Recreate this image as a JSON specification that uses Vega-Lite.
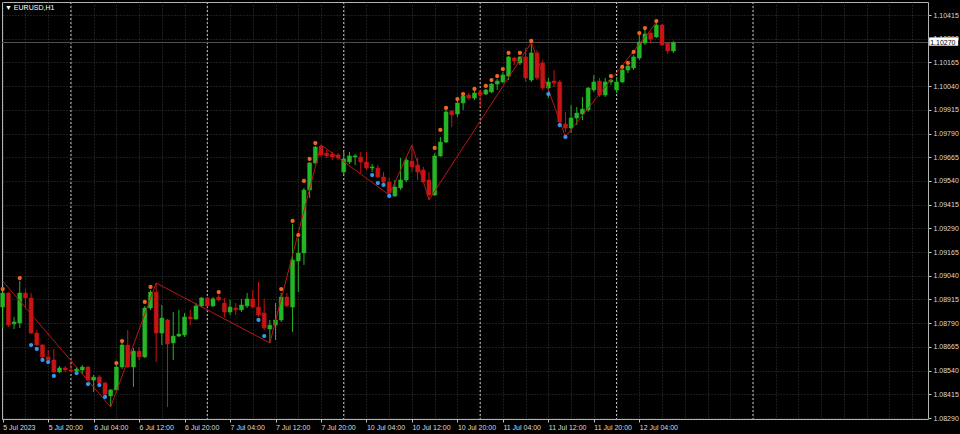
{
  "$schema": "https://vega.github.io/schema/vega-lite/v6.json",
  "width": 926,
  "height": 417,
  "autosize": {"type": "none"},
  "padding": {"left": 2, "top": 2, "right": 32, "bottom": 15},
  "background": "#000000",
  "title": {
    "text": "▼ EURUSD,H1",
    "anchor": "start",
    "frame": "group",
    "orient": "top",
    "baseline": "top",
    "offset": -9,
    "dx": 3,
    "font": "Liberation Sans",
    "fontSize": 7,
    "fontWeight": "normal",
    "color": "#ffffff"
  },
  "config": {
    "view": {"stroke": "#b4b4b4", "strokeWidth": 1, "fill": "#000000"},
    "axis": {
      "labelFont": "Liberation Sans",
      "labelFontSize": 7,
      "labelColor": "#dcdcdc",
      "tickColor": "#c8c8c8",
      "domain": false,
      "gridColor": "#383838",
      "gridDash": [1, 2],
      "gridWidth": 1,
      "title": null,
      "tickSize": 3,
      "tickCount": 100,
      "labelOverlap": false,
      "labelFlush": false,
      "labelBound": false
    }
  },
  "datasets": {
    "days": [{"i": 12}, {"i": 36}, {"i": 60}, {"i": 84}, {"i": 108}, {"i": 132}],
    "candles": [
      {"i":0,"o":1.08875,"h":1.08965,"l":1.08765,"c":1.08949},
      {"i":1,"o":1.08949,"h":1.08954,"l":1.08770,"c":1.08780},
      {"i":2,"o":1.08786,"h":1.08823,"l":1.08759,"c":1.08796},
      {"i":3,"o":1.08791,"h":1.09012,"l":1.08765,"c":1.08949},
      {"i":4,"o":1.08949,"h":1.08970,"l":1.08875,"c":1.08923},
      {"i":5,"o":1.08923,"h":1.08949,"l":1.08733,"c":1.08738},
      {"i":6,"o":1.08738,"h":1.08754,"l":1.08670,"c":1.08675},
      {"i":7,"o":1.08675,"h":1.08680,"l":1.08606,"c":1.08612},
      {"i":8,"o":1.08612,"h":1.08649,"l":1.08591,"c":1.08596},
      {"i":9,"o":1.08596,"h":1.08654,"l":1.08527,"c":1.08533},
      {"i":10,"o":1.08533,"h":1.08564,"l":1.08527,"c":1.08554},
      {"i":11,"o":1.08554,"h":1.08564,"l":1.08533,"c":1.08543},
      {"i":12,"o":1.08543,"h":1.08575,"l":1.08533,"c":1.08538},
      {"i":13,"o":1.08538,"h":1.08559,"l":1.08533,"c":1.08548},
      {"i":14,"o":1.08543,"h":1.08569,"l":1.08522,"c":1.08559},
      {"i":15,"o":1.08559,"h":1.08564,"l":1.08485,"c":1.08490},
      {"i":16,"o":1.08490,"h":1.08517,"l":1.08427,"c":1.08506},
      {"i":17,"o":1.08506,"h":1.08517,"l":1.08469,"c":1.08475},
      {"i":18,"o":1.08475,"h":1.08480,"l":1.08411,"c":1.08416},
      {"i":19,"o":1.08406,"h":1.08443,"l":1.08348,"c":1.08438},
      {"i":20,"o":1.08438,"h":1.08569,"l":1.08432,"c":1.08559},
      {"i":21,"o":1.08559,"h":1.08686,"l":1.08548,"c":1.08675},
      {"i":22,"o":1.08675,"h":1.08754,"l":1.08554,"c":1.08559},
      {"i":23,"o":1.08559,"h":1.08659,"l":1.08454,"c":1.08643},
      {"i":24,"o":1.08643,"h":1.08664,"l":1.08596,"c":1.08612},
      {"i":25,"o":1.08612,"h":1.08881,"l":1.08606,"c":1.08870},
      {"i":26,"o":1.08870,"h":1.08965,"l":1.08860,"c":1.08954},
      {"i":27,"o":1.08954,"h":1.09002,"l":1.08585,"c":1.08738},
      {"i":28,"o":1.08738,"h":1.08886,"l":1.08675,"c":1.08817},
      {"i":29,"o":1.08807,"h":1.08812,"l":1.08348,"c":1.08680},
      {"i":30,"o":1.08686,"h":1.08849,"l":1.08596,"c":1.08722},
      {"i":31,"o":1.08722,"h":1.08860,"l":1.08717,"c":1.08733},
      {"i":32,"o":1.08728,"h":1.08844,"l":1.08717,"c":1.08823},
      {"i":33,"o":1.08823,"h":1.08860,"l":1.08780,"c":1.08812},
      {"i":34,"o":1.08812,"h":1.08896,"l":1.08807,"c":1.08881},
      {"i":35,"o":1.08881,"h":1.08928,"l":1.08875,"c":1.08923},
      {"i":36,"o":1.08923,"h":1.08928,"l":1.08875,"c":1.08881},
      {"i":37,"o":1.08881,"h":1.08928,"l":1.08875,"c":1.08918},
      {"i":38,"o":1.08928,"h":1.08939,"l":1.08907,"c":1.08912},
      {"i":39,"o":1.08896,"h":1.08923,"l":1.08823,"c":1.08849},
      {"i":40,"o":1.08849,"h":1.08912,"l":1.08833,"c":1.08875},
      {"i":41,"o":1.08870,"h":1.08896,"l":1.08833,"c":1.08860},
      {"i":42,"o":1.08860,"h":1.08918,"l":1.08849,"c":1.08886},
      {"i":43,"o":1.08881,"h":1.08949,"l":1.08870,"c":1.08918},
      {"i":44,"o":1.08918,"h":1.08965,"l":1.08870,"c":1.08875},
      {"i":45,"o":1.08875,"h":1.09007,"l":1.08823,"c":1.08833},
      {"i":46,"o":1.08844,"h":1.08918,"l":1.08754,"c":1.08765},
      {"i":47,"o":1.08759,"h":1.08807,"l":1.08686,"c":1.08780},
      {"i":48,"o":1.08780,"h":1.08896,"l":1.08701,"c":1.08807},
      {"i":49,"o":1.08807,"h":1.08949,"l":1.08796,"c":1.08928},
      {"i":50,"o":1.08928,"h":1.08949,"l":1.08875,"c":1.08881},
      {"i":51,"o":1.08875,"h":1.09313,"l":1.08743,"c":1.09123},
      {"i":52,"o":1.09118,"h":1.09239,"l":1.08954,"c":1.09160},
      {"i":53,"o":1.09160,"h":1.09503,"l":1.09097,"c":1.09492},
      {"i":54,"o":1.09492,"h":1.09640,"l":1.09450,"c":1.09635},
      {"i":55,"o":1.09635,"h":1.09724,"l":1.09629,"c":1.09719},
      {"i":56,"o":1.09724,"h":1.09730,"l":1.09666,"c":1.09677},
      {"i":57,"o":1.09687,"h":1.09703,"l":1.09661,"c":1.09672},
      {"i":58,"o":1.09682,"h":1.09693,"l":1.09650,"c":1.09666},
      {"i":59,"o":1.09677,"h":1.09687,"l":1.09650,"c":1.09661},
      {"i":60,"o":1.09587,"h":1.09693,"l":1.09577,"c":1.09656},
      {"i":61,"o":1.09640,"h":1.09693,"l":1.09629,"c":1.09672},
      {"i":62,"o":1.09666,"h":1.09682,"l":1.09624,"c":1.09672},
      {"i":63,"o":1.09666,"h":1.09693,"l":1.09582,"c":1.09640},
      {"i":64,"o":1.09640,"h":1.09693,"l":1.09598,"c":1.09608},
      {"i":65,"o":1.09608,"h":1.09629,"l":1.09587,"c":1.09614},
      {"i":66,"o":1.09608,"h":1.09624,"l":1.09556,"c":1.09561},
      {"i":67,"o":1.09561,"h":1.09587,"l":1.09529,"c":1.09534},
      {"i":68,"o":1.09534,"h":1.09556,"l":1.09466,"c":1.09476},
      {"i":69,"o":1.09461,"h":1.09545,"l":1.09455,"c":1.09508},
      {"i":70,"o":1.09503,"h":1.09661,"l":1.09492,"c":1.09545},
      {"i":71,"o":1.09545,"h":1.09661,"l":1.09534,"c":1.09650},
      {"i":72,"o":1.09645,"h":1.09730,"l":1.09587,"c":1.09614},
      {"i":73,"o":1.09624,"h":1.09661,"l":1.09545,"c":1.09587},
      {"i":74,"o":1.09598,"h":1.09614,"l":1.09529,"c":1.09534},
      {"i":75,"o":1.09545,"h":1.09587,"l":1.09440,"c":1.09466},
      {"i":76,"o":1.09466,"h":1.09687,"l":1.09461,"c":1.09672},
      {"i":77,"o":1.09672,"h":1.09772,"l":1.09666,"c":1.09745},
      {"i":78,"o":1.09745,"h":1.09914,"l":1.09740,"c":1.09904},
      {"i":79,"o":1.09909,"h":1.09914,"l":1.09824,"c":1.09888},
      {"i":80,"o":1.09893,"h":1.09967,"l":1.09877,"c":1.09951},
      {"i":81,"o":1.09951,"h":1.09993,"l":1.09914,"c":1.09988},
      {"i":82,"o":1.09993,"h":1.10004,"l":1.09967,"c":1.09977},
      {"i":83,"o":1.09977,"h":1.10014,"l":1.09967,"c":1.10004},
      {"i":84,"o":1.10009,"h":1.10020,"l":1.09930,"c":1.09993},
      {"i":85,"o":1.09998,"h":1.10025,"l":1.09993,"c":1.10020},
      {"i":86,"o":1.10009,"h":1.10056,"l":1.10004,"c":1.10051},
      {"i":87,"o":1.10051,"h":1.10078,"l":1.10020,"c":1.10067},
      {"i":88,"o":1.10062,"h":1.10114,"l":1.10056,"c":1.10099},
      {"i":89,"o":1.10093,"h":1.10199,"l":1.10072,"c":1.10194},
      {"i":90,"o":1.10188,"h":1.10194,"l":1.10151,"c":1.10172},
      {"i":91,"o":1.10162,"h":1.10199,"l":1.10151,"c":1.10194},
      {"i":92,"o":1.10194,"h":1.10241,"l":1.10062,"c":1.10083},
      {"i":93,"o":1.10072,"h":1.10262,"l":1.10062,"c":1.10215},
      {"i":94,"o":1.10215,"h":1.10230,"l":1.10072,"c":1.10083},
      {"i":95,"o":1.10162,"h":1.10178,"l":1.10020,"c":1.10030},
      {"i":96,"o":1.10030,"h":1.10083,"l":1.09977,"c":1.10062},
      {"i":97,"o":1.10067,"h":1.10125,"l":1.10035,"c":1.10056},
      {"i":98,"o":1.10062,"h":1.10072,"l":1.09846,"c":1.09851},
      {"i":99,"o":1.09840,"h":1.09904,"l":1.09798,"c":1.09819},
      {"i":100,"o":1.09819,"h":1.09940,"l":1.09793,"c":1.09872},
      {"i":101,"o":1.09872,"h":1.09930,"l":1.09835,"c":1.09898},
      {"i":102,"o":1.09893,"h":1.09983,"l":1.09861,"c":1.09919},
      {"i":103,"o":1.09914,"h":1.10035,"l":1.09904,"c":1.10030},
      {"i":104,"o":1.10020,"h":1.10099,"l":1.10009,"c":1.10062},
      {"i":105,"o":1.10067,"h":1.10083,"l":1.09983,"c":1.09993},
      {"i":106,"o":1.09993,"h":1.10083,"l":1.09983,"c":1.10062},
      {"i":107,"o":1.10062,"h":1.10078,"l":1.10046,"c":1.10072},
      {"i":108,"o":1.10020,"h":1.10088,"l":1.10004,"c":1.10062},
      {"i":109,"o":1.10062,"h":1.10130,"l":1.10056,"c":1.10125},
      {"i":110,"o":1.10125,"h":1.10151,"l":1.10109,"c":1.10146},
      {"i":111,"o":1.10136,"h":1.10204,"l":1.10125,"c":1.10194},
      {"i":112,"o":1.10188,"h":1.10310,"l":1.10178,"c":1.10273},
      {"i":113,"o":1.10267,"h":1.10336,"l":1.10257,"c":1.10315},
      {"i":114,"o":1.10320,"h":1.10325,"l":1.10267,"c":1.10288},
      {"i":115,"o":1.10299,"h":1.10373,"l":1.10294,"c":1.10362},
      {"i":116,"o":1.10362,"h":1.10368,"l":1.10252,"c":1.10257},
      {"i":117,"o":1.10267,"h":1.10273,"l":1.10209,"c":1.10225},
      {"i":118,"o":1.10225,"h":1.10278,"l":1.10215,"c":1.10270}
    ],
    "signals": [
      {"i":0,"p":1.08970,"kind":"high"},{"i":3,"p":1.09028,"kind":"high"},{"i":20,"p":1.08580,"kind":"high"},
      {"i":21,"p":1.08696,"kind":"high"},{"i":25,"p":1.08902,"kind":"high"},{"i":26,"p":1.08981,"kind":"high"},
      {"i":38,"p":1.08954,"kind":"high"},{"i":49,"p":1.08970,"kind":"high"},{"i":51,"p":1.09329,"kind":"high"},
      {"i":52,"p":1.09255,"kind":"high"},{"i":53,"p":1.09540,"kind":"high"},{"i":54,"p":1.09656,"kind":"high"},
      {"i":55,"p":1.09740,"kind":"high"},{"i":76,"p":1.09714,"kind":"high"},{"i":77,"p":1.09809,"kind":"high"},
      {"i":78,"p":1.09925,"kind":"high"},{"i":80,"p":1.09972,"kind":"high"},{"i":81,"p":1.09998,"kind":"high"},
      {"i":83,"p":1.10025,"kind":"high"},{"i":85,"p":1.10041,"kind":"high"},{"i":86,"p":1.10072,"kind":"high"},
      {"i":87,"p":1.10093,"kind":"high"},{"i":88,"p":1.10130,"kind":"high"},{"i":89,"p":1.10215,"kind":"high"},
      {"i":91,"p":1.10215,"kind":"high"},{"i":93,"p":1.10278,"kind":"high"},{"i":107,"p":1.10093,"kind":"high"},
      {"i":109,"p":1.10141,"kind":"high"},{"i":110,"p":1.10162,"kind":"high"},{"i":111,"p":1.10220,"kind":"high"},
      {"i":112,"p":1.10320,"kind":"high"},{"i":113,"p":1.10346,"kind":"high"},{"i":115,"p":1.10383,"kind":"high"},
      {"i":5,"p":1.08675,"kind":"low"},{"i":6,"p":1.08654,"kind":"low"},{"i":7,"p":1.08596,"kind":"low"},
      {"i":8,"p":1.08585,"kind":"low"},{"i":9,"p":1.08512,"kind":"low"},{"i":13,"p":1.08527,"kind":"low"},
      {"i":15,"p":1.08469,"kind":"low"},{"i":17,"p":1.08464,"kind":"low"},{"i":18,"p":1.08401,"kind":"low"},
      {"i":45,"p":1.08807,"kind":"low"},{"i":46,"p":1.08722,"kind":"low"},{"i":65,"p":1.09571,"kind":"low"},
      {"i":66,"p":1.09529,"kind":"low"},{"i":67,"p":1.09519,"kind":"low"},{"i":68,"p":1.09461,"kind":"low"},
      {"i":96,"p":1.09998,"kind":"low"},{"i":98,"p":1.09835,"kind":"low"},{"i":99,"p":1.09772,"kind":"low"}
    ],
    "zigzag": [
      {"i":0,"p":1.09012},{"i":19,"p":1.08348},{"i":27,"p":1.09002},{"i":47,"p":1.08686},
      {"i":56,"p":1.09730},{"i":68,"p":1.09466},{"i":72,"p":1.09730},{"i":75,"p":1.09440},
      {"i":93,"p":1.10270},{"i":99,"p":1.09773},{"i":115,"p":1.10374}
    ],
    "quote": [{"price": 1.10270, "label": "1.10270"}]
  },
  "layer": [
    {
      "data": {"name": "days"},
      "mark": {"type": "rule", "color": "#c8c8c8", "strokeDash": [2, 2], "strokeWidth": 1},
      "encoding": {
        "x": {
          "field": "i", "type": "quantitative",
          "scale": {"domain": [-0.123, 162.79], "nice": false, "zero": false, "padding": 0},
          "axis": {
            "orient": "bottom",
            "grid": true,
            "tickCount": 100,
            "values": [0,4,8,12,16,20,24,28,32,36,40,44,48,52,56,60,64,68,72,76,80,84,88,92,96,100,104,108,112,116,120,124,128,132,136,140,144,148,152,156,160],
            "labelExpr": "(datum.value % 8 == 0 && datum.value <= 112) ? ['5 Jul 2023','5 Jul 20:00','6 Jul 04:00','6 Jul 12:00','6 Jul 20:00','7 Jul 04:00','7 Jul 12:00','7 Jul 20:00','10 Jul 04:00','10 Jul 12:00','10 Jul 20:00','11 Jul 04:00','11 Jul 12:00','11 Jul 20:00','12 Jul 04:00'][datum.value / 8] : ''",
            "labelAlign": "left",
            "labelDx": -1,
            "labelPadding": 1,
            "labelOverlap": false,
            "tickColor": {"condition": {"test": "datum.value % 8 == 0 && datum.value <= 112", "value": "#c8c8c8"}, "value": "transparent"}
          }
        }
      }
    },
    {
      "data": {"name": "quote"},
      "mark": {"type": "rule", "color": "#4e4e4e", "strokeWidth": 1},
      "encoding": {
        "y": {
          "field": "price", "type": "quantitative",
          "scale": {"domain": [1.082848, 1.104836], "nice": false, "zero": false, "padding": 0},
          "axis": {
            "orient": "right",
            "grid": true,
            "tickCount": 100,
            "values": [1.0829,1.08415,1.0854,1.08665,1.0879,1.08915,1.0904,1.09165,1.0929,1.09415,1.0954,1.09665,1.0979,1.09915,1.1004,1.10165,1.1029,1.10415],
            "format": ".5f",
            "labelOverlap": false,
            "labelPadding": 2
          }
        }
      }
    },
    {
      "data": {"name": "candles"},
      "mark": {"type": "rule", "strokeWidth": 1},
      "encoding": {
        "x": {"field": "i", "type": "quantitative"},
        "y": {"field": "l", "type": "quantitative"},
        "y2": {"field": "h"},
        "color": {"condition": {"test": "datum.c >= datum.o", "value": "#26b526"}, "value": "#c81414"}
      }
    },
    {
      "data": {"name": "candles"},
      "mark": {"type": "bar", "width": 4, "strokeWidth": 0.5},
      "encoding": {
        "x": {"field": "i", "type": "quantitative"},
        "y": {"field": "o", "type": "quantitative"},
        "y2": {"field": "c"},
        "fill": {"condition": {"test": "datum.c >= datum.o", "value": "#26b526"}, "value": "#c81414"},
        "stroke": {"condition": {"test": "datum.c >= datum.o", "value": "#26b526"}, "value": "#c81414"}
      }
    },
    {
      "data": {"name": "zigzag"},
      "mark": {"type": "line", "color": "#b81818", "strokeWidth": 1},
      "encoding": {
        "x": {"field": "i", "type": "quantitative"},
        "y": {"field": "p", "type": "quantitative"}
      }
    },
    {
      "data": {"name": "signals"},
      "mark": {"type": "point", "filled": true, "size": 18, "opacity": 1},
      "encoding": {
        "x": {"field": "i", "type": "quantitative"},
        "y": {"field": "p", "type": "quantitative"},
        "color": {"field": "kind", "type": "nominal", "scale": {"domain": ["high", "low"], "range": ["#f26522", "#3399f0"]}, "legend": null}
      }
    },
    {
      "data": {"name": "quote"},
      "mark": {"type": "rect", "fill": "#ffffff"},
      "encoding": {
        "x": {"datum": 163.0, "type": "quantitative"},
        "x2": {"datum": 168.1},
        "y": {"datum": 1.10297, "type": "quantitative"},
        "y2": {"datum": 1.10253}
      }
    },
    {
      "data": {"name": "quote"},
      "mark": {"type": "text", "align": "left", "baseline": "middle", "font": "Liberation Sans", "fontSize": 7, "color": "#000000", "dx": 1},
      "encoding": {
        "x": {"datum": 163.0, "type": "quantitative"},
        "y": {"field": "price", "type": "quantitative"},
        "text": {"field": "label"}
      }
    }
  ]
}
